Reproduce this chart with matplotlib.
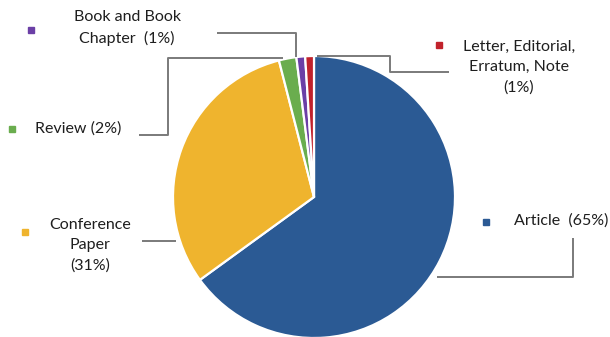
import matplotlib
matplotlib.use("Agg")
import matplotlib.pyplot as plt

# Document types and their shares (%)
categories = ["Article", "Conference\nPaper", "Review", "Book and Book\nChapter", "Letter, Editorial,\nErratum, Note"]
label_texts = ["Article  (65%)", "Conference\nPaper\n(31%)", "Review (2%)",
               "Book and Book\nChapter  (1%)", "Letter, Editorial,\nErratum, Note\n(1%)"]
shares = [65, 31, 2, 1, 1]
colors = ["#2B5A94", "#EFB42E", "#6AAD4E", "#6B3FA6", "#C1222B"]

W, H = 610, 337
fig = plt.figure(figsize=(W / 100, H / 100), dpi=100)
ax = fig.add_axes([0, 0, 1, 1])

def Y(y):
    # pixel row (from top) to axes y
    return H - y

cx, cy, r = 314, 197, 141
ax.pie(shares, colors=colors, startangle=90, counterclock=False,
       center=(cx, Y(cy)), radius=r, frame=True,
       wedgeprops=dict(edgecolor="white", linewidth=1.6))
ax.set_xlim(0, W)
ax.set_ylim(0, H)
ax.axis("off")

font = "Lato"
txt_color = "#1E1E1E"
line_color = "#7A7A7A"

# label text anchor (center x, center y), marker position, leader polyline
layout = {
    "Article": dict(text=(561, 221), marker=(486, 222),
                    leader=[(437, 277), (573, 277), (573, 238)]),
    "Conference\nPaper": dict(text=(90, 245), marker=(25, 232),
                              leader=[(142, 241), (176, 241)]),
    "Review": dict(text=(78, 129), marker=(12, 129),
                   leader=[(139, 135), (168, 135), (168, 58), (283, 58)]),
    "Book and Book\nChapter": dict(text=(127, 28), marker=(31, 30),
                                   leader=[(217, 33), (296, 33), (296, 57)]),
    "Letter, Editorial,\nErratum, Note": dict(text=(519, 67), marker=(439, 45),
                                              leader=[(317, 56), (390, 56), (390, 72), (449, 72)]),
}

for cat, lab, col in zip(categories, label_texts, colors):
    spec = layout[cat]
    tx, ty = spec["text"]
    ax.text(tx, Y(ty), lab, ha="center", va="center", fontsize=11.5,
            family=font, color=txt_color, linespacing=1.55)
    mx, my = spec["marker"]
    ax.plot([mx], [Y(my)], marker="s", markersize=4.2, color=col, linestyle="none")
    xs = [p[0] for p in spec["leader"]]
    ys = [Y(p[1]) for p in spec["leader"]]
    ax.plot(xs, ys, color=line_color, linewidth=1.4, solid_capstyle="butt")

fig.savefig("out.png", dpi=100)
